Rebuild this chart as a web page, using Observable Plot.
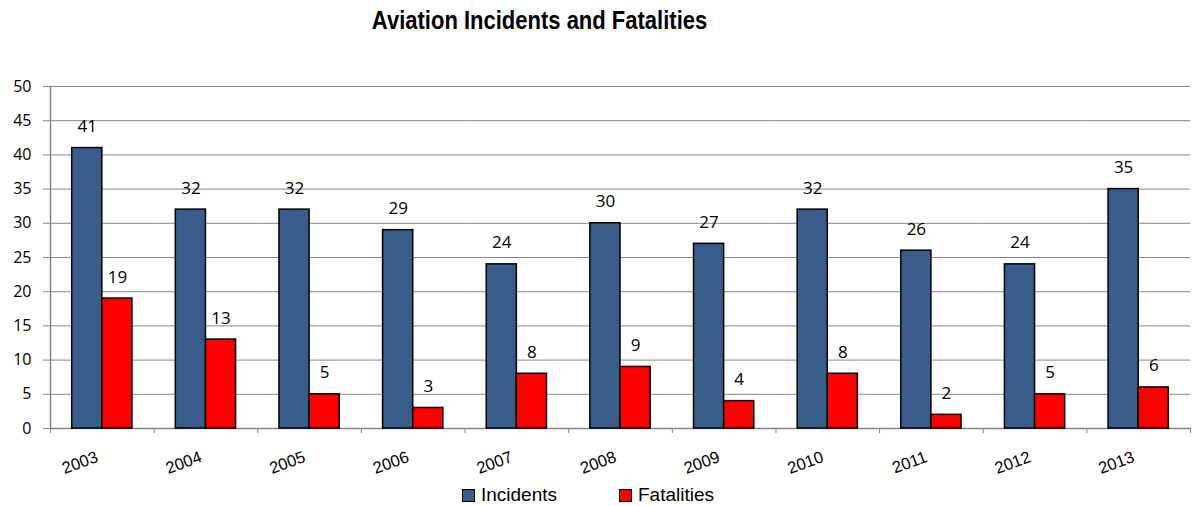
<!DOCTYPE html>
<html>
<head>
<meta charset="utf-8">
<script src="https://cdn.jsdelivr.net/npm/d3@7"></script>
<script src="https://cdn.jsdelivr.net/npm/@observablehq/plot@0.6"></script>
<style>
  body { margin: 0; background: #fff; width: 1196px; height: 506px; overflow: hidden; }
  #title { width: 1080px; height: 40px; line-height: 40px; text-align: center; }
  #title span { display: inline-block; transform: scaleX(0.88); transform-origin: center;
           font-family: "Liberation Sans", Arial, sans-serif;
           font-weight: bold; font-size: 25px; color: #000; }
  #legend { width: 1176px; display: flex; justify-content: center; align-items: center; gap: 62px;
            font-family: "Liberation Sans", Arial, sans-serif; font-size: 19px; height: 30px; margin-top: 10px; }
  .item { display: flex; align-items: center; gap: 6px; }
  .sw { width: 11px; height: 11px; border: 1px solid #000; display: inline-block; }
</style>
</head>
<body>
<div id="title"><span>Aviation Incidents and Fatalities</span></div>
<div id="chart"></div>
<div id="legend"></div>
<script>
const years = ["2003","2004","2005","2006","2007","2008","2009","2010","2011","2012","2013"];
const incidents = [41, 32, 32, 29, 24, 30, 27, 32, 26, 24, 35];
const fatalities = [19, 13, 5, 3, 8, 9, 4, 8, 2, 5, 6];
const seriesNames = ["Incidents", "Fatalities"];
const seriesColors = ["#385D8A", "#FF0000"];
const yTicks = [0, 5, 10, 15, 20, 25, 30, 35, 40, 45, 50];

const data = [];
years.forEach((y, i) => {
  data.push({year: y, series: "Incidents", value: incidents[i]});
  data.push({year: y, series: "Fatalities", value: fatalities[i]});
});

const W = 1196, ML = 50, MR = 6;
const bw = (W - ML - MR) / years.length;
const gray = "#868686";

const chart = Plot.plot({
  width: W,
  height: 430,
  marginLeft: ML,
  marginRight: MR,
  marginTop: 46,
  marginBottom: 42,
  style: {fontFamily: "'Open Sans', sans-serif", background: "#fff", overflow: "visible"},
  fx: {domain: years, padding: 0, round: false, label: null},
  x: {domain: seriesNames, paddingInner: 0, paddingOuter: 0.72, round: false, axis: null},
  y: {domain: [0, 50], label: null},
  color: {domain: seriesNames, range: seriesColors},
  marks: [
    Plot.gridY(yTicks, {stroke: gray, strokeOpacity: 1, strokeWidth: 1}),
    Plot.axisY({ticks: yTicks, tickSize: 7, tickPadding: 12, stroke: gray, strokeOpacity: 1,
                fontSize: 16, fill: "#000", label: null}),
    Plot.frame({anchor: "left", stroke: gray, strokeWidth: 1.5, facetAnchor: "left"}),
    Plot.ruleY([0], {stroke: gray, strokeWidth: 1.5}),
    Plot.axisFx({anchor: "bottom", ticks: years, tickSize: 5, dx: -bw / 2, tickFormat: () => "", stroke: gray, strokeOpacity: 1, label: null}),
    Plot.axisFx({anchor: "bottom", ticks: [years[years.length - 1]], tickSize: 5, dx: bw / 2, tickFormat: () => "", stroke: gray, strokeOpacity: 1, label: null}),
    Plot.axisFx({anchor: "bottom", ticks: years, tickSize: 0, tickPadding: 24, tickRotate: -20, fontSize: 16.5, dx: -5, dy: 4,
                 fontFamily: "'Liberation Sans', Arial, sans-serif", fill: "#000", label: null}),
    Plot.barY(data, {fx: "year", x: "series", y: "value", fill: "series", stroke: "#000", strokeWidth: 1.5}),
    Plot.text(data, {fx: "year", x: "series", y: "value", text: "value", dy: -16, lineAnchor: "bottom",
                     fontSize: 17, fill: "#000"})
  ]
});
document.getElementById("chart").appendChild(chart);

const legend = document.getElementById("legend");
seriesNames.forEach((s, i) => {
  const it = document.createElement("div");
  it.className = "item";
  const sw = document.createElement("span");
  sw.className = "sw";
  sw.style.background = seriesColors[i];
  const t = document.createElement("span");
  t.textContent = s;
  it.appendChild(sw); it.appendChild(t);
  legend.appendChild(it);
});
</script>
</body>
</html>
